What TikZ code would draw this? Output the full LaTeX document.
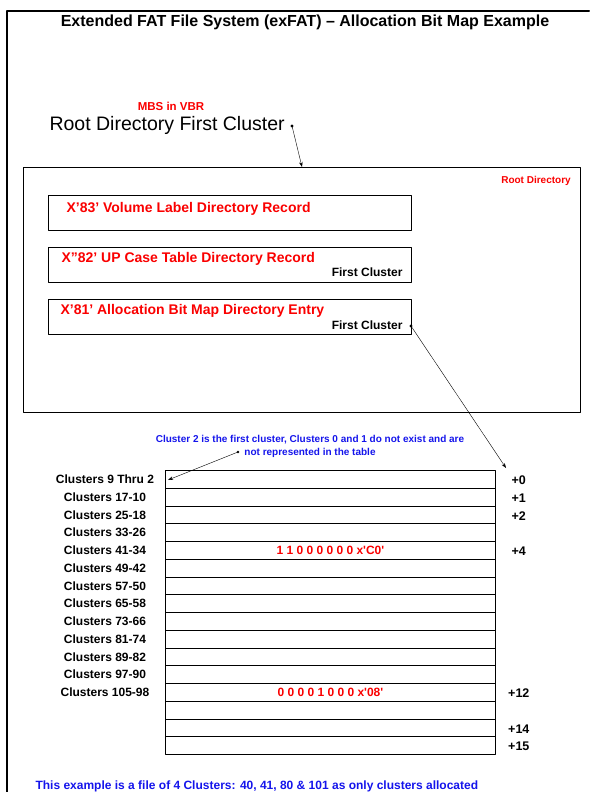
\documentclass[tikz,border=0pt]{standalone}
\usepackage{fontspec}
\setmainfont{Liberation Sans}
\usetikzlibrary{arrows.meta}
\definecolor{recred}{RGB}{250,0,0}
\definecolor{noteblue}{RGB}{20,20,235}

\begin{document}
\begin{tikzpicture}[line cap=round,line join=round,>={Stealth[length=5pt,width=3.5pt]},x=1pt,y=-1pt,
  record/.style={draw,line width=0.8pt,minimum width=363pt,minimum height=35pt,inner sep=0pt,anchor=north west},
  bitrow/.style={draw,line width=0.8pt,minimum width=330pt,minimum height=17.75pt,inner sep=0pt,anchor=north west},
  rectext/.style={anchor=west,text=recred,font=\bfseries\fontsize{14}{16}\selectfont},
  firstcl/.style={anchor=east,font=\bfseries\fontsize{12}{14}\selectfont},
  clabel/.style={font=\bfseries\fontsize{12}{14}\selectfont},
  offs/.style={font=\bfseries\fontsize{12.5}{15}\selectfont},
  bits/.style={text=recred,font=\bfseries\fontsize{12}{14}\selectfont}]
\useasboundingbox (0,0) rectangle (589,792);
\draw [line width=2pt] (6.5,792) -- (6.5,11) -- (589,11);
\node[font=\bfseries\fontsize{16}{19}\selectfont] (title) at (305,22) {Extended FAT File System (exFAT) -- Allocation Bit Map Example};
% root directory pointer
\node[text=recred,font=\bfseries\fontsize{11.5}{13}\selectfont] (mbs) at (171,106) {MBS in VBR};
\node[anchor=west,font=\fontsize{19.5}{22}\selectfont] (rdfc) at (46,125) {Root Directory First Cluster};
\coordinate (rdfcdot) at (292,126);
\fill (rdfcdot) circle (1.6pt);
% root directory
\node[draw,line width=0.8pt,minimum width=557pt,minimum height=245pt,inner sep=0pt,anchor=north west] (rootdir) at (23,167) {};
\node[text=recred,font=\bfseries\fontsize{10}{12}\selectfont] (rdname) at (536,181) {Root Directory};
\coordinate (rdtop) at (302,167);
\draw [->] (rdfcdot) -- (rdtop);
\node[record] (vol) at (48,195) {};
\node[record] (upcase) at (48,247) {};
\node[record] (abm) at (48,299) {};
\node[rectext] (voltext) at (63,209) {X’83’ Volume Label Directory Record};
\node[rectext] (uptext) at (58,259) {X”82’ UP Case Table Directory Record};
\node[rectext] (abmtext) at (57,311) {X’81’ Allocation Bit Map Directory Entry};
\node[firstcl] (upfc) at (406,272) {First Cluster};
\node[firstcl] (abmfc) at (406,325) {First Cluster};
\coordinate (abmdot) at (411,326);
\fill (abmdot) circle (1.6pt);
% bit map
\foreach \i in {0,...,15}
  \node[bitrow] (r\i) at (165,{470+17.75*\i}) {};
\foreach \i/\t in {0/9 Thru 2,1/17-10,2/25-18,3/33-26,4/41-34,5/49-42,6/57-50,7/65-58,8/73-66,9/81-74,10/89-82,11/97-90,12/105-98}
  \node[clabel] (lab\i) at ([xshift=-60pt]r\i.west) {Clusters \t};
\foreach \i in {0,1,2,4,12,14,15}
  \node[offs] (off\i) at ([xshift=23pt,yshift=-1pt]r\i.east) {+\i};
\node[bits] (bits4) at (r4) {1 1 0 0 0 0 0 0 x\textquotesingle C0\textquotesingle};
\node[bits] (bits12) at (r12) {0 0 0 0 1 0 0 0 x\textquotesingle 08\textquotesingle};
\coordinate (abmtip) at (506,468);
\draw [->] (abmdot) -- (abmtip);
% note on cluster 2
\node[text=noteblue,align=center,font=\bfseries\fontsize{10}{13}\selectfont] (note) at (310,446) {Cluster 2 is the first cluster, Clusters 0 and 1 do not exist and are\\not represented in the table};
\coordinate (notedot) at (238,452);
\fill (notedot) circle (1.4pt);
\coordinate (notetip) at (168,480);
\draw [->] (notedot) -- (notetip);
\node[anchor=west,text=noteblue,font=\bfseries\fontsize{12}{14}\selectfont] (summary) at (32,786) {This example is a file of 4 Clusters: 40, 41, 80 \& 101 as only clusters allocated};
\end{tikzpicture}
\end{document}
